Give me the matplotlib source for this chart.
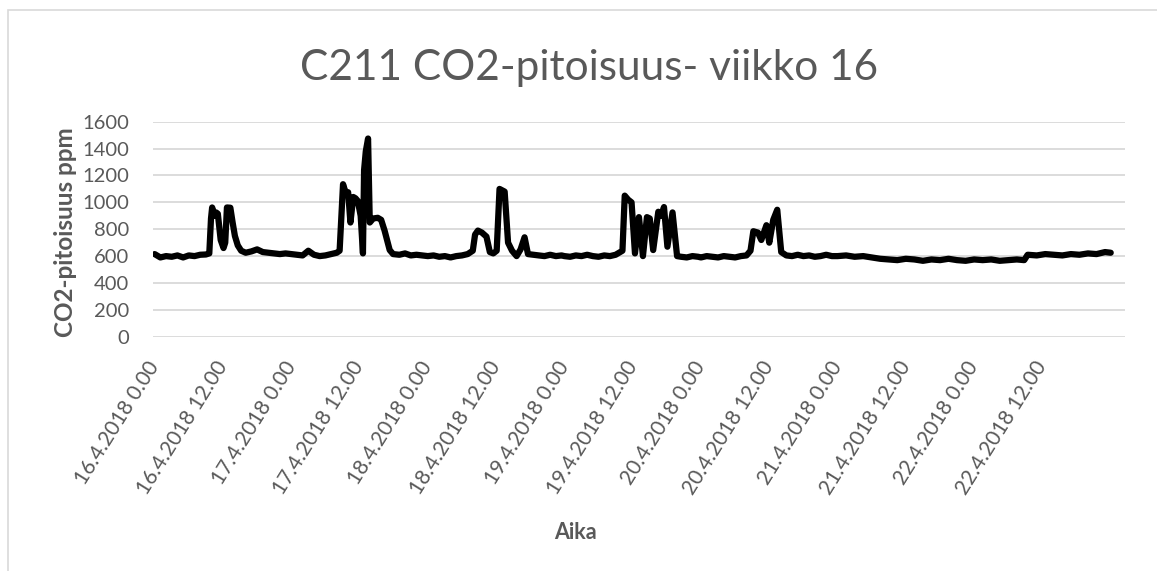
import numpy as np
import matplotlib
matplotlib.use("Agg")
import matplotlib.pyplot as plt
from matplotlib.patches import Rectangle

# CO2 readings: hours since 16.4.2018 0.00 and ppm
day16_h = [0, 1, 2, 3, 4, 5, 6, 7, 8, 9, 9.6, 9.9, 10.1, 10.5, 10.8, 11.1, 11.6, 12.1, 12.4,
           12.7, 13.3, 13.7, 14.1, 14.6, 15.2, 16, 17, 18, 19, 20, 21, 22, 23]
day16_ppm = [615, 590, 600, 595, 605, 590, 605, 600, 610, 612, 620, 880, 962, 900, 925, 915, 720, 660, 700,
             962, 960, 850, 750, 680, 640, 625, 635, 650, 630, 625, 620, 615, 620]

day17_h = [24, 25, 26, 27, 28, 29, 30, 31, 32, 32.5, 33.1, 33.5, 34, 34.4, 34.9, 35.3, 35.7, 36.2,
           36.6, 36.8, 37.1, 37.5, 37.8, 38.4, 39.2, 39.8, 40.4, 41.3, 41.9, 43, 44, 45, 46, 47]
day17_ppm = [615, 610, 605, 640, 610, 600, 605, 615, 625, 640, 1135, 1080, 1075, 850, 1040, 1030, 1010, 900,
             620, 1240, 1380, 1475, 850, 880, 885, 870, 790, 645, 615, 610, 620, 605, 610, 605]

day18_h = [48, 49, 50, 51, 52, 53, 54, 55, 55.9, 56.3, 56.8, 57.5, 58.3, 58.9, 59.5, 60.1, 60.6, 61.5,
           62.1, 62.8, 63.6, 64.3, 65, 65.6, 66.5, 67.5, 68.5, 69.5, 70.5, 71.5]
day18_ppm = [600, 605, 595, 600, 590, 600, 605, 615, 640, 760, 790, 775, 745, 630, 620, 640, 1100, 1080,
             700, 640, 600, 650, 740, 615, 610, 605, 600, 610, 600, 605]

day19_h = [72, 73, 74, 75, 76, 77, 78, 79, 80, 81, 82.2, 82.6, 83.2, 83.8, 84.4, 85.1, 85.8, 86.5,
           87, 87.6, 88.5, 89, 89.5, 90.1, 91, 91.8, 92.5, 93.5, 94.5, 95.5]
day19_ppm = [600, 595, 605, 600, 610, 600, 595, 605, 600, 610, 640, 1050, 1020, 1000, 620, 890, 600, 890,
             880, 645, 930, 900, 965, 670, 925, 600, 595, 590, 600, 595]

day20_h = [96, 97, 98, 99, 100, 101, 102, 103, 104, 104.7, 105.2, 106, 106.6, 107.5, 108, 108.7, 109.4,
           110.1, 111, 112, 113, 114, 115, 116, 117, 118, 119]
day20_ppm = [590, 600, 595, 590, 600, 595, 590, 600, 605, 640, 785, 775, 720, 830, 700, 870, 945,
             630, 605, 600, 610, 600, 605, 595, 600, 610, 600]

day21_h = [120, 121.5, 123, 124.5, 126, 127.5, 129, 130.5, 132, 133.5, 135, 136.5, 138, 139.5, 141, 142.5]
day21_ppm = [600, 605, 595, 600, 590, 580, 575, 570, 580, 575, 565, 575, 570, 580, 570, 565]

day22_h = [144, 145.5, 147, 148.5, 150, 151.5, 152.8, 153.4, 155, 156.5, 158, 159.5, 161, 162.5, 164, 165.5, 167, 168]
day22_ppm = [575, 570, 575, 565, 570, 575, 570, 610, 605, 615, 610, 605, 615, 610, 620, 615, 630, 625]

tick_labels = ["16.4.2018 0.00", "16.4.2018 12.00", "17.4.2018 0.00", "17.4.2018 12.00",
               "18.4.2018 0.00", "18.4.2018 12.00", "19.4.2018 0.00", "19.4.2018 12.00",
               "20.4.2018 0.00", "20.4.2018 12.00", "21.4.2018 0.00", "21.4.2018 12.00",
               "22.4.2018 0.00", "22.4.2018 12.00"]

hours = np.concatenate([day16_h, day17_h, day18_h, day19_h, day20_h, day21_h, day22_h])
ppm = np.concatenate([day16_ppm, day17_ppm, day18_ppm, day19_ppm, day20_ppm, day21_ppm, day22_ppm])

plt.rcParams['font.family'] = ['Lato', 'DejaVu Sans']
grey = '#595959'

fig = plt.figure(figsize=(11.57, 5.71), dpi=100)
ax = fig.add_axes([0.1322, 0.4103, 0.8401, 0.3765])

ax.plot(hours, ppm, color='black', linewidth=4.5, solid_joinstyle='round', solid_capstyle='round')

ax.set_xlim(-0.3, 170.5)
ax.set_ylim(0, 1600)
ax.set_yticks(np.arange(0, 1601, 200))
ax.set_xticks(np.arange(len(tick_labels)) * 12)
ax.set_xticklabels(tick_labels, rotation=58, ha='right', va='center', rotation_mode='anchor')
ax.tick_params(axis='x', length=0, pad=19, labelsize=15, labelcolor=grey)
ax.tick_params(axis='y', length=0, pad=17, labelsize=14.5, labelcolor=grey)
ax.grid(axis='y', color='#d9d9d9', linewidth=1.3)
ax.set_axisbelow(True)
for s in ax.spines.values():
    s.set_visible(False)

fig.text(0.509, 0.881, 'C211 CO2-pitoisuus- viikko 16', ha='center', va='center',
         fontsize=30.5, color=grey)
fig.text(0.057, 0.594, 'CO2-pitoisuus ppm', rotation=90, ha='center', va='center',
         fontsize=17.5, fontweight='bold', color=grey)
fig.text(0.497, 0.067, 'Aika', ha='center', va='center', fontsize=15.5, fontweight='bold', color=grey)

# chart border (only top and left edges fall inside the image)
fig.patches.append(Rectangle((8 / 1157, -0.1), 1.2, 1 - 10 / 571 + 0.1, transform=fig.transFigure,
                             fill=False, edgecolor='#d9d9d9', linewidth=1.2))

fig.savefig('out.png', dpi=100)
